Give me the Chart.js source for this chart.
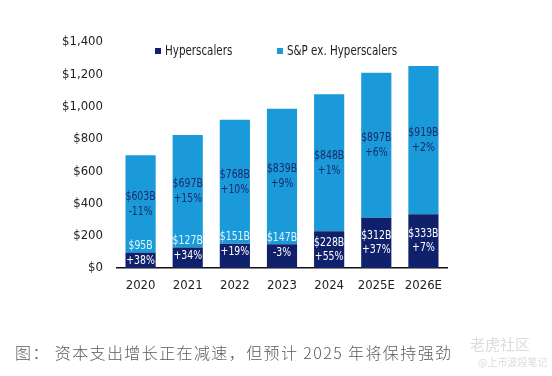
<!DOCTYPE html>
<html>
<head>
<meta charset="utf-8">
<script src="https://cdn.jsdelivr.net/npm/chart.js@4.4.1/dist/chart.umd.min.js"></script>
<style>
  html, body { margin: 0; padding: 0; background: #fff; }
  #wrap { position: relative; width: 552px; height: 376px; }
  #caption {
    position: absolute; left: 15px; top: 340px;
    font-family: "Noto Sans CJK SC", sans-serif; font-weight: 300;
    font-size: 16px; letter-spacing: 1.4px; color: #5a5a5a; white-space: nowrap;
  }
  #wm1 { position: absolute; left: 470px; top: 333px; font-family: "Noto Sans CJK SC"; font-size: 15px; color: #dcdcdc; }
  #wm2 { position: absolute; left: 478px; top: 354px; font-family: "Noto Sans CJK SC"; font-size: 10px; color: #dcdcdc; }
</style>
</head>
<body>
<div id="wrap">
  <canvas id="chart_capex" width="552" height="376"></canvas>
  <div id="caption">图： 资本支出增长正在减速，但预计 2025 年将保持强劲</div>
  <div id="wm1">老虎社区</div>
  <div id="wm2">@上市波段笔记</div>
</div>
<script>
var years = ['2020', '2021', '2022', '2023', '2024', '2025E', '2026E'];
var hyperscalers = [95, 127, 151, 147, 228, 312, 333];
var hyperGrowth = ['+38%', '+34%', '+19%', '-3%', '+55%', '+37%', '+7%'];
var spExHyper = [603, 697, 768, 839, 848, 897, 919];
var spGrowth = ['-11%', '+15%', '+10%', '+9%', '+1%', '+6%', '+2%'];
var yTicks = [0, 200, 400, 600, 800, 1000, 1200, 1400];

var navy = '#10206a';
var lightBlue = '#1a9ad8';
var fontFam = '"DejaVu Sans Condensed", "Liberation Sans", sans-serif';

// draw text squeezed horizontally, like the narrow font of the original
function narrowText(ctx, text, x, y, sx) {
    ctx.save();
    ctx.translate(x, y);
    ctx.scale(sx, 1);
    ctx.fillText(text, 0, 0);
    ctx.restore();
}

var chart_capex = new Chart(document.getElementById('chart_capex'), {
    type: 'bar',
    data: {
        labels: years,
        datasets: [
            {
                label: 'Hyperscalers',
                data: hyperscalers,
                backgroundColor: navy,
                barPercentage: 0.8,
                categoryPercentage: 0.8
            },
            {
                label: 'S&P ex. Hyperscalers',
                data: spExHyper,
                backgroundColor: lightBlue,
                barPercentage: 0.8,
                categoryPercentage: 0.8
            }
        ]
    },
    options: {
        animation: false,
        responsive: false,
        layout: { padding: { top: 42, right: 105, bottom: 78, left: 0 } },
        plugins: {
            legend: { display: false },
            tooltip: { enabled: false }
        },
        scales: {
            x: {
                stacked: true,
                grid: { display: false, drawTicks: false },
                border: { display: true, color: '#111', width: 1.5 },
                ticks: {
                    color: '#222', font: { family: fontFam, size: 13 }, padding: 10,
                    maxRotation: 0, minRotation: 0, autoSkip: false
                },
                afterFit: function (scale) { scale.height = 30; }
            },
            y: {
                stacked: true,
                min: 0,
                max: 1400,
                afterBuildTicks: function (scale) {
                    scale.ticks = yTicks.map(function (v) { return { value: v }; });
                },
                grid: { display: false, drawTicks: false },
                border: { display: false },
                ticks: {
                    color: '#222',
                    font: { family: fontFam, size: 13 },
                    padding: 14,
                    callback: function (v) { return '$' + v.toLocaleString('en-US'); }
                },
                afterFit: function (scale) { scale.width = 117; }
            }
        }
    },
    plugins: [{
        id: 'barLabels',
        afterDatasetsDraw: function (chart) {
            var ctx = chart.ctx;
            var hMeta = chart.getDatasetMeta(0);
            var sMeta = chart.getDatasetMeta(1);
            ctx.save();
            ctx.textAlign = 'center';
            ctx.textBaseline = 'middle';
            ctx.font = '13px ' + fontFam;
            var sx = 0.8;
            years.forEach(function (y, i) {
                var s = sMeta.data[i];
                var sMid = (s.y + s.base) / 2;
                ctx.fillStyle = '#1a2a6c';
                narrowText(ctx, '$' + spExHyper[i] + 'B', s.x, sMid - 7.5, sx);
                narrowText(ctx, spGrowth[i], s.x, sMid + 7.5, sx);

                var h = hMeta.data[i];
                if (hyperscalers[i] < 200) {
                    ctx.fillStyle = '#dff6ff';
                    narrowText(ctx, '$' + hyperscalers[i] + 'B', h.x, h.y - 7, sx);
                    ctx.fillStyle = '#fff';
                    narrowText(ctx, hyperGrowth[i], h.x, h.y + 8, sx);
                } else {
                    var hMid = (h.y + h.base) / 2;
                    ctx.fillStyle = '#fff';
                    narrowText(ctx, '$' + hyperscalers[i] + 'B', h.x, hMid - 7, sx);
                    narrowText(ctx, hyperGrowth[i], h.x, hMid + 7, sx);
                }
            });
            ctx.restore();
        }
    }, {
        id: 'topLegend',
        afterDraw: function (chart) {
            var ctx = chart.ctx;
            var items = [
                { text: 'Hyperscalers', color: navy, x: 155 },
                { text: 'S&P ex. Hyperscalers', color: lightBlue, x: 277 }
            ];
            ctx.save();
            ctx.font = '14px ' + fontFam;
            ctx.textBaseline = 'middle';
            ctx.textAlign = 'left';
            items.forEach(function (it) {
                ctx.fillStyle = it.color;
                ctx.fillRect(it.x, 48, 6, 6);
                ctx.fillStyle = '#222';
                narrowText(ctx, it.text, it.x + 10, 51, 0.82);
            });
            ctx.restore();
        }
    }]
});
</script>
</body>
</html>
